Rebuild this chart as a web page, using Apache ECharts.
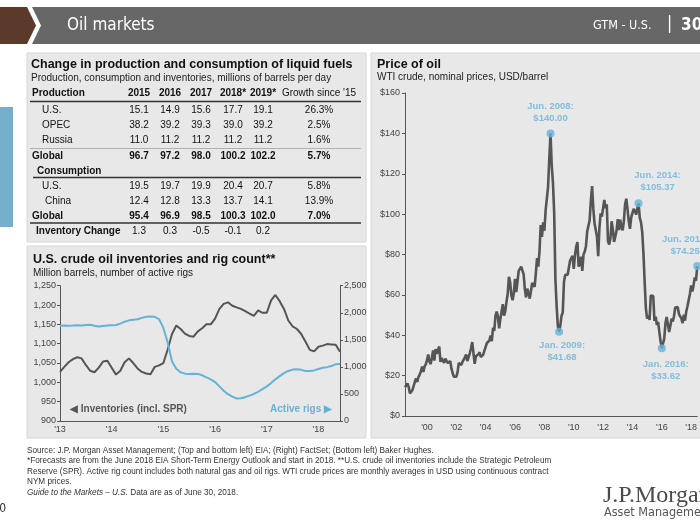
<!DOCTYPE html>
<html><head><meta charset="utf-8">
<script src="https://cdn.jsdelivr.net/npm/echarts@6/dist/echarts.min.js"></script>
<style>html,body{margin:0;padding:0;background:#fff}#c{width:700px;height:525px}</style>
</head><body><div id="c"></div>
<script>
// ---------- Table data ----------
const tableYears = ['2015', '2016', '2017', '2018*', '2019*'];
const growthHeader = "Growth since '15";
const prodUS = [15.1, 14.9, 15.6, 17.7, 19.1];
const prodOPEC = [38.2, 39.2, 39.3, 39.0, 39.2];
const prodRussia = [11.0, 11.2, 11.2, 11.2, 11.2];
const prodGlobal = [96.7, 97.2, 98.0, 100.2, 102.2];
const consUS = [19.5, 19.7, 19.9, 20.4, 20.7];
const consChina = [12.4, 12.8, 13.3, 13.7, 14.1];
const consGlobal = [95.4, 96.9, 98.5, 100.3, 102.0];
const invChange = [1.3, 0.3, -0.5, -0.1, 0.2];
const growthProd = ['26.3%', '2.5%', '1.6%', '5.7%'];
const growthCons = ['5.8%', '13.9%', '7.0%'];

// ---------- Inventories & rigs (monthly, Jan 2013 - Jun 2018) ----------
const invStart = [2013, 1];
const invTickLabels = ["'13", "'14", "'15", "'16", "'17", "'18"];
const inventories = [
  1027, 1040, 1052, 1060, 1065, 1062, 1045, 1030, 1026, 1038, 1054, 1056,
  1038, 1020, 1030, 1052, 1062, 1050, 1036, 1027, 1023, 1021, 1040, 1044,
  1050, 1085, 1125, 1147, 1138, 1126, 1120, 1118, 1132, 1140, 1150, 1150,
  1165, 1190, 1203, 1207, 1198, 1194, 1190, 1184, 1178, 1172, 1186, 1180,
  1180, 1212, 1226, 1210, 1190, 1160, 1145, 1138, 1125, 1105, 1084, 1080,
  1092, 1095, 1099, 1098, 1097, 1079
];
const activeRigs = [
  1760, 1765, 1762, 1765, 1770, 1765, 1775, 1780, 1760, 1745, 1755, 1765,
  1770, 1775, 1800, 1835, 1860, 1870, 1880, 1905, 1925, 1930, 1925, 1880,
  1720, 1450, 1100, 965, 900, 875, 870, 875, 870, 845, 805, 770,
  720, 640, 560, 495, 450, 415, 420, 440, 470, 500, 540, 590,
  640, 700, 770, 830, 885, 925, 950, 955, 945, 925, 925, 935,
  960, 985, 995, 1015, 1050, 1055
];

// ---------- WTI price (monthly, Jul 1998 - Jun 2018) ----------
const priceStart = [1998, 7];
const priceTickLabels = ["'00", "'02", "'04", "'06", "'08", "'10", "'12", "'14", "'16", "'18"];
const wtiPrice = [
  14.21, 13.38, 16.14, 14.42, 11.22, 12.05,
  12.75, 13.27, 16.76, 18.66, 16.84, 19.29, 20.53, 22.10, 24.51, 21.75, 24.59, 25.60,
  27.64, 30.43, 26.90, 25.74, 29.01, 32.50, 27.43, 33.12, 30.84, 32.70, 34.40, 26.80,
  28.66, 27.39, 26.29, 28.46, 28.37, 26.25, 26.35, 27.20, 23.43, 21.18, 19.44, 19.84,
  19.48, 21.74, 26.31, 27.29, 25.31, 26.86, 27.02, 28.98, 30.45, 27.22, 26.89, 31.20,
  33.51, 36.60, 31.04, 25.80, 29.56, 30.19, 30.54, 31.57, 29.20, 29.11, 30.41, 32.52,
  33.05, 36.16, 35.76, 37.38, 39.88, 37.05, 43.80, 42.12, 49.64, 51.76, 49.13, 43.45,
  48.20, 51.75, 55.40, 49.72, 51.97, 56.50, 60.57, 68.94, 66.24, 59.76, 57.32, 61.04,
  67.92, 61.41, 66.63, 71.88, 71.29, 73.93, 74.40, 70.26, 62.91, 58.73, 63.13, 61.05,
  58.14, 61.79, 65.87, 65.71, 64.01, 70.68, 78.21, 74.04, 81.66, 94.53, 88.71, 95.98,
  91.75, 101.84, 101.58, 113.46, 127.35, 140.00, 124.08, 115.46, 100.64, 67.81, 54.43, 44.60,
  41.68, 44.76, 49.66, 51.12, 66.31, 69.89, 69.45, 69.96, 70.61, 77.00, 77.28, 79.36,
  72.89, 79.66, 83.76, 86.15, 73.97, 75.63, 78.95, 71.92, 79.97, 81.43, 84.11, 91.38,
  92.19, 96.97, 106.72, 113.93, 102.70, 95.42, 95.70, 88.81, 79.20, 93.19, 100.36, 98.83,
  98.48, 107.07, 103.02, 104.87, 86.53, 84.96, 88.06, 96.47, 92.19, 86.24, 88.91, 91.82,
  97.49, 92.05, 97.23, 93.46, 91.97, 96.56, 105.03, 107.65, 102.33, 96.38, 92.72, 98.42,
  97.49, 102.59, 101.58, 99.74, 102.71, 105.37, 98.17, 95.96, 91.16, 80.54, 66.15, 53.27,
  48.24, 49.76, 47.60, 59.63, 60.30, 59.47, 47.12, 49.20, 45.09, 46.59, 41.65, 37.04,
  33.62, 33.75, 38.34, 45.92, 49.10, 48.33, 41.60, 44.70, 48.24, 46.86, 49.44, 53.72,
  52.81, 54.01, 50.60, 49.33, 48.32, 46.04, 50.17, 47.23, 51.67, 54.38, 57.40, 60.42,
  64.73, 61.64, 64.94, 68.57, 67.04, 74.25
];
const highlightMonths = ['2008-06', '2009-01', '2014-06', '2016-01', '2018-06'];
const highlightTitles = ['Jun. 2008:', 'Jan. 2009:', 'Jun. 2014:', 'Jan. 2016:', 'Jun. 2018:'];

// ---------- helpers ----------
function monthList(start, n) {
  const out = [];
  let y = start[0], m = start[1];
  for (let i = 0; i < n; i++) {
    out.push(y + '-' + (m < 10 ? '0' + m : '' + m));
    m++; if (m > 12) { m = 1; y++; }
  }
  return out;
}
const invMonths = monthList(invStart, inventories.length);
const priceMonths = monthList(priceStart, wtiPrice.length);

const BLUE = '#66b1d8';
const DARK = '#555555';
const AX = '#555555';
const LBL = '#444';
const F = "'Liberation Sans', Arial, Helvetica, sans-serif";
const NARROW = "'Liberation Sans Narrow', 'DejaVu Sans Condensed', 'Roboto Condensed', sans-serif";

const G = [];
function T(x, y, text, o) {
  o = o || {};
  G.push({
    type: 'text', x: x, y: y, z: 10, silent: true,
    style: {
      text: text, fill: o.fill || '#111',
      font: (o.italic ? 'italic ' : '') + (o.bold ? 'bold ' : '') + (o.size || 10) + 'px ' + (o.family || F),
      textAlign: o.align || 'left', align: o.align || 'left',
      textVerticalAlign: 'middle', verticalAlign: 'middle',
      rich: o.rich
    }
  });
}
function R(x, y, w, h, fill, stroke) {
  G.push({ type: 'rect', z: -10, silent: true, shape: { x: x, y: y, width: w, height: h },
    style: { fill: fill, stroke: stroke || null, lineWidth: stroke ? 1 : 0 } });
}
function L(x1, y1, x2, y2, color, w) {
  G.push({ type: 'line', z: 5, silent: true, shape: { x1: x1, y1: y1, x2: x2, y2: y2 },
    style: { stroke: color, lineWidth: w } });
}

// header
G.push({ type: 'polygon', z: -10, silent: true, shape: { points: [[0, 7], [27, 7], [36, 25.5], [27, 44], [0, 44]] }, style: { fill: '#5b3a2a' } });
G.push({ type: 'polygon', z: -10, silent: true, shape: { points: [[32, 7], [700, 7], [700, 44], [32, 44], [41, 25.5]] }, style: { fill: '#676767' } });
T(67, 26, 'Oil markets', { fill: '#fff', size: 17, family: NARROW });
T(593, 26, 'GTM - U.S.', { fill: '#fff', size: 12.5, family: NARROW });
T(667, 25, '|', { fill: '#fff', size: 17, family: NARROW });
T(681, 26, '30', { fill: '#fff', size: 17, bold: true, family: NARROW });

// side tab
R(0, 107, 13, 120, '#76afcc');

// panels
R(27, 53, 339, 189, '#e8e8e8', '#d6d6d6');
R(27, 246, 339, 192, '#e8e8e8', '#d6d6d6');
R(371, 53, 340, 385, '#e8e8e8', '#d6d6d6');

// top-left table
T(31, 65, 'Change in production and consumption of liquid fuels', { bold: true, size: 12.5 });
T(31, 78, 'Production, consumption and inventories, millions of barrels per day', { size: 10, fill: '#222' });
const colX = [139, 170, 201, 233, 263];
const growthX = 319;
T(32, 93, 'Production', { bold: true });
tableYears.forEach((y, i) => T(colX[i], 93, y, { bold: true, align: 'center' }));
T(growthX, 93, growthHeader, { align: 'center' });
L(30, 101.5, 361, 101.5, '#333', 1.5);
const fmt = v => v.toFixed(1);
const rows = [
  { name: 'U.S.', vals: prodUS, g: growthProd[0], y: 110.5, x: 42 },
  { name: 'OPEC', vals: prodOPEC, g: growthProd[1], y: 125.5, x: 42 },
  { name: 'Russia', vals: prodRussia, g: growthProd[2], y: 140.5, x: 42 },
  { name: 'Global', vals: prodGlobal, g: growthProd[3], y: 156.5, x: 32, bold: true },
  { name: 'U.S.', vals: consUS, g: growthCons[0], y: 186.5, x: 42 },
  { name: 'China', vals: consChina, g: growthCons[1], y: 201, x: 45 },
  { name: 'Global', vals: consGlobal, g: growthCons[2], y: 216, x: 32, bold: true },
  { name: 'Inventory Change', vals: invChange, g: '', y: 231.5, x: 36, bold: true, valsNormal: true }
];
rows.forEach(r => {
  T(r.x, r.y, r.name, { bold: r.bold });
  r.vals.forEach((v, i) => T(colX[i], r.y, fmt(v), { bold: r.bold && !r.valsNormal, align: 'center' }));
  if (r.g) T(growthX, r.y, r.g, { bold: r.bold, align: 'center' });
});
L(30, 148.5, 361, 148.5, '#b0b0b0', 1);
T(37, 171, 'Consumption', { bold: true });
L(33, 177.5, 361, 177.5, '#333', 1.5);
L(30, 223, 361, 223, '#333', 1.5);

// bottom-left titles
T(33, 259.5, 'U.S. crude oil inventories and rig count**', { bold: true, size: 12.5 });
T(33, 273, 'Million barrels, number of active rigs', { size: 10, fill: '#222' });
T(70, 409, '\u25C0 Inventories (incl. SPR)', { bold: true, size: 10, fill: '#555' });
T(332, 409, 'Active rigs \u25B6', { bold: true, size: 10, fill: BLUE, align: 'right' });

// right titles
T(377, 65, 'Price of oil', { bold: true, size: 12.5 });
T(377, 77, 'WTI crude, nominal prices, USD/barrel', { size: 10, fill: '#222' });

// footnotes
const fy = [450.5, 461, 471.5, 482, 492.5];
const FN = { size: 8.2, fill: '#333' };
T(27, fy[0], 'Source: J.P. Morgan Asset Management; (Top and bottom left) EIA; (Right) FactSet; (Bottom left) Baker Hughes.', FN);
T(27, fy[1], '*Forecasts are from the June 2018 EIA Short-Term Energy Outlook and start in 2018. **U.S. crude oil inventories include the Strategic Petroleum', FN);
T(27, fy[2], 'Reserve (SPR). Active rig count includes both natural gas and oil rigs. WTI crude prices are monthly averages in USD using continuous contract', FN);
T(27, fy[3], 'NYM prices.', FN);
T(27, fy[4], '{i|Guide to the Markets \u2013 U.S.} Data are as of June 30, 2018.', Object.assign({}, FN, {
  rich: { i: { fontStyle: 'italic', fontSize: 8.2, fontFamily: F, fill: '#333' } }
}));

// logo & page number
T(603, 496, 'J.P.Morgan', { size: 24, fill: '#4a4a4a', family: "'Liberation Serif', 'DejaVu Serif', serif" });
T(604, 513, 'Asset Management', { size: 12.5, fill: '#555', family: NARROW });
T(6, 509, '30', { size: 12, fill: '#333', align: 'right', family: NARROW });

// ---------- chart ----------
const axisLineStyle = { show: true, lineStyle: { color: AX, width: 1 } };
const labelStyle = { fontSize: 9, color: LBL, fontFamily: F };

const hlPlacement = [
  { position: 'top', distance: 5, offset: [0, 0] },
  { position: 'bottom', distance: 4, offset: [3, 0] },
  { position: 'top', distance: 6, offset: [19, 0] },
  { position: 'bottom', distance: 6, offset: [4, 0] },
  { position: 'top', distance: 5, offset: [-12, 0] }
];
const hlData = highlightMonths.map((m, i) => {
  const v = wtiPrice[priceMonths.indexOf(m)];
  return {
    value: [m, v],
    label: Object.assign({
      show: true,
      formatter: highlightTitles[i] + '\n$' + v.toFixed(2),
      color: BLUE, fontWeight: 'bold', fontSize: 9.5, lineHeight: 12, fontFamily: F, align: 'center'
    }, hlPlacement[i])
  };
});

const option = {
  animation: false,
  backgroundColor: '#fff',
  graphic: { elements: G },
  grid: [
    { left: 60, top: 285.7, width: 280, height: 135.3 },
    { left: 405, top: 93, width: 293, height: 323 }
  ],
  xAxis: [
    {
      type: 'category', gridIndex: 0, data: invMonths, boundaryGap: false, z: 5,
      axisLine: axisLineStyle, axisTick: { show: false },
      axisLabel: Object.assign({
        interval: (i, v) => v.endsWith('-01'), margin: 4,
        formatter: v => invTickLabels[(+v.slice(0, 4)) - invStart[0]]
      }, labelStyle),
      splitLine: { show: false }
    },
    {
      type: 'category', gridIndex: 1, data: priceMonths, boundaryGap: false, z: 5,
      axisLine: axisLineStyle, axisTick: { show: false },
      axisLabel: Object.assign({
        interval: (i, v) => v.endsWith('-01') && priceTickLabels.indexOf("'" + v.slice(2, 4)) >= 0,
        margin: 7,
        formatter: v => "'" + v.slice(2, 4)
      }, labelStyle),
      splitLine: { show: false }
    }
  ],
  yAxis: [
    {
      type: 'value', gridIndex: 0, min: 900, max: 1250, interval: 50, position: 'left', z: 5,
      axisLine: axisLineStyle, axisTick: { show: true, length: 3, lineStyle: { color: AX } },
      axisLabel: Object.assign({ margin: 4, formatter: v => v.toLocaleString('en-US') }, labelStyle),
      splitLine: { show: false }
    },
    {
      type: 'value', gridIndex: 0, min: 0, max: 2500, interval: 500, position: 'right', z: 5,
      axisLine: axisLineStyle, axisTick: { show: true, length: 3, lineStyle: { color: AX } },
      axisLabel: Object.assign({ margin: 4, formatter: v => v.toLocaleString('en-US') }, labelStyle),
      splitLine: { show: false }
    },
    {
      type: 'value', gridIndex: 1, min: 0, max: 160, interval: 20, z: 5,
      axisLine: axisLineStyle, axisTick: { show: true, length: 3, lineStyle: { color: AX } },
      axisLabel: Object.assign({ margin: 5, formatter: v => '$' + v }, labelStyle),
      splitLine: { show: false }
    }
  ],
  series: [
    {
      name: 'Inventories (incl. SPR)', type: 'line', xAxisIndex: 0, yAxisIndex: 0,
      data: inventories, symbol: 'none', lineStyle: { color: DARK, width: 2 }, z: 6
    },
    {
      name: 'Active rigs', type: 'line', xAxisIndex: 0, yAxisIndex: 1,
      data: activeRigs, symbol: 'none', lineStyle: { color: BLUE, width: 2 }, z: 6
    },
    {
      name: 'WTI', type: 'line', xAxisIndex: 1, yAxisIndex: 2,
      data: wtiPrice, symbol: 'none', lineStyle: { color: DARK, width: 2.6 }, z: 6
    },
    {
      name: 'Highlights', type: 'scatter', xAxisIndex: 1, yAxisIndex: 2,
      data: hlData, symbol: 'circle', symbolSize: 8, itemStyle: { color: BLUE }, z: 7, clip: false
    }
  ]
};
const chart = echarts.init(document.getElementById('c'), null, { renderer: 'canvas' });
chart.setOption(option);
</script>
</body></html>
